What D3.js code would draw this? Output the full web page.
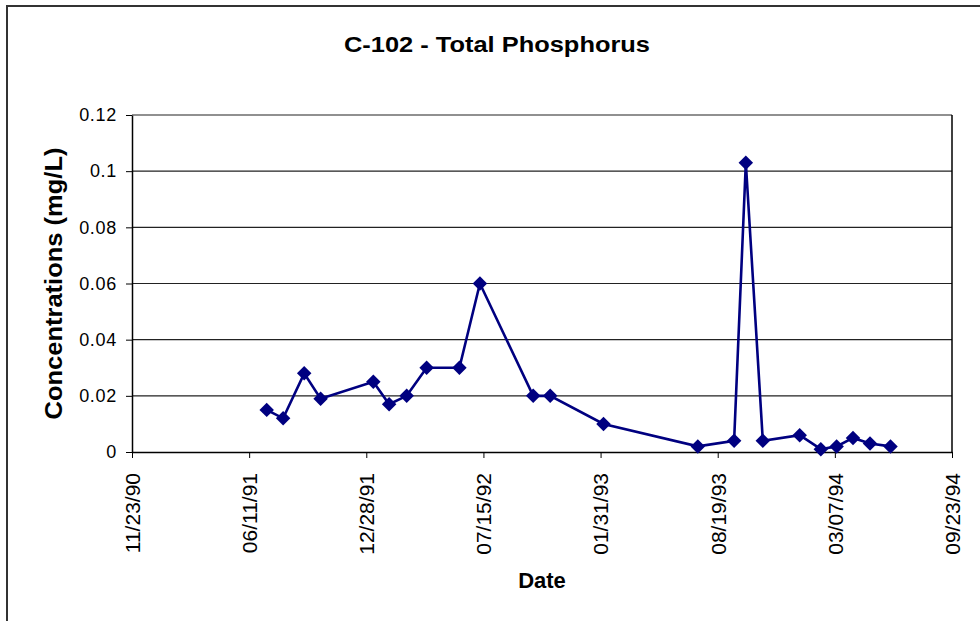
<!DOCTYPE html>
<html>
<head>
<meta charset="utf-8">
<script src="https://d3js.org/d3.v7.min.js"></script>
<style>
  body { margin: 0; background: #fff; }
  text { font-family: "Liberation Sans", Arial, sans-serif; fill: #000; }
</style>
</head>
<body>
<svg width="980" height="621"></svg>
<script>
// sample dates and total phosphorus (mg/L)
var sampleDates = ["1991-07-11", "1991-08-08", "1991-09-13", "1991-10-11", "1992-01-09", "1992-02-05",
  "1992-03-06", "1992-04-09", "1992-06-04", "1992-07-09", "1992-10-08", "1992-11-06", "1993-02-05",
  "1993-07-16", "1993-09-16", "1993-10-06", "1993-11-04", "1994-01-06", "1994-02-11", "1994-03-10",
  "1994-04-07", "1994-05-06", "1994-06-10"];
var phosphorus = [0.015, 0.012, 0.028, 0.019, 0.025, 0.017, 0.020, 0.030, 0.030, 0.060, 0.020, 0.020,
  0.010, 0.002, 0.004, 0.103, 0.004, 0.006, 0.001, 0.002, 0.005, 0.003, 0.002];

var xTickDates = ["1990-11-23", "1991-06-11", "1991-12-28", "1992-07-15", "1993-01-31", "1993-08-19",
  "1994-03-07", "1994-09-23"];
var yTicks = [0, 0.02, 0.04, 0.06, 0.08, 0.1, 0.12];
var yTickLabels = ["0", "0.02", "0.04", "0.06", "0.08", "0.1", "0.12"];

function draw() {
  var parse = d3.utcParse("%Y-%m-%d");
  var data = sampleDates.map(function(d, i) { return {date: parse(d), value: phosphorus[i]}; });

  var svg = d3.select("svg");
  var pLeft = 132, pRight = 952, pTop = 115, pBottom = 452;

  var x = d3.scaleUtc()
    .domain([parse(xTickDates[0]), parse(xTickDates[xTickDates.length - 1])])
    .range([pLeft, pRight]);
  var y = d3.scaleLinear().domain([0, 0.12]).range([pBottom, pTop]);

  // outer chart border (runs off the picture on right/bottom)
  svg.append("rect")
    .attr("x", 7).attr("y", 6).attr("width", 1000).attr("height", 700)
    .attr("fill", "none").attr("stroke", "#333").attr("stroke-width", 2);

  // grid lines
  svg.append("g").selectAll("line")
    .data(yTicks.slice(1))
    .enter().append("line")
    .attr("x1", pLeft).attr("x2", pRight)
    .attr("y1", function(d) { return y(d); })
    .attr("y2", function(d) { return y(d); })
    .attr("stroke", "#222").attr("stroke-width", 1.2);

  // right edge of plot area
  svg.append("line")
    .attr("x1", pRight).attr("x2", pRight).attr("y1", pTop).attr("y2", pBottom)
    .attr("stroke", "#000").attr("stroke-width", 1.5);

  // y axis
  var yAxis = svg.append("g")
    .attr("transform", "translate(" + pLeft + ",0)")
    .call(d3.axisLeft(y).tickValues(yTicks).tickFormat(function(d, i) { return yTickLabels[i]; })
      .tickSize(6).tickSizeOuter(0));
  yAxis.select(".domain").attr("stroke", "#000").attr("stroke-width", 1.5);
  yAxis.selectAll(".tick line").attr("stroke", "#000");
  yAxis.selectAll(".tick text")
    .attr("x", -15)
    .style("font-size", "18px")
    .style("letter-spacing", "0.7px");

  // x axis
  var xAxis = svg.append("g")
    .attr("transform", "translate(0," + pBottom + ")")
    .call(d3.axisBottom(x).tickValues(xTickDates.map(parse)).tickFormat(d3.utcFormat("%m/%d/%y"))
      .tickSize(6).tickSizeOuter(0));
  xAxis.select(".domain").attr("stroke", "#000").attr("stroke-width", 1.5);
  xAxis.selectAll(".tick line").attr("stroke", "#000");
  xAxis.selectAll(".tick text")
    .attr("transform", "rotate(-90)")
    .attr("x", -21).attr("y", 0).attr("dy", "0.35em")
    .attr("text-anchor", "end")
    .style("font-size", "21px");

  // series line
  var line = d3.line()
    .x(function(d) { return x(d.date); })
    .y(function(d) { return y(d.value); });

  svg.append("path")
    .datum(data)
    .attr("d", line)
    .attr("fill", "none")
    .attr("stroke", "#000080")
    .attr("stroke-width", 2.6);

  // diamond markers
  var diamond = d3.symbol().type(d3.symbolSquare).size(105);
  svg.append("g").selectAll("path")
    .data(data)
    .enter().append("path")
    .attr("d", diamond)
    .attr("transform", function(d) { return "translate(" + x(d.date) + "," + y(d.value) + ") rotate(45)"; })
    .attr("fill", "#000080");

  // titles
  svg.append("text")
    .attr("x", 497).attr("y", 52)
    .attr("text-anchor", "middle")
    .attr("textLength", 306).attr("lengthAdjust", "spacingAndGlyphs")
    .style("font-size", "22px").style("font-weight", "bold")
    .text("C-102 - Total Phosphorus");

  svg.append("text")
    .attr("x", (pLeft + pRight) / 2).attr("y", 588)
    .attr("text-anchor", "middle")
    .style("font-size", "22px").style("font-weight", "bold")
    .text("Date");

  svg.append("text")
    .attr("transform", "translate(62," + ((pTop + pBottom) / 2) + ") rotate(-90)")
    .attr("text-anchor", "middle")
    .attr("textLength", 272).attr("lengthAdjust", "spacingAndGlyphs")
    .style("font-size", "23px").style("font-weight", "bold")
    .text("Concentrations (mg/L)");
}
draw();
</script>
</body>
</html>
